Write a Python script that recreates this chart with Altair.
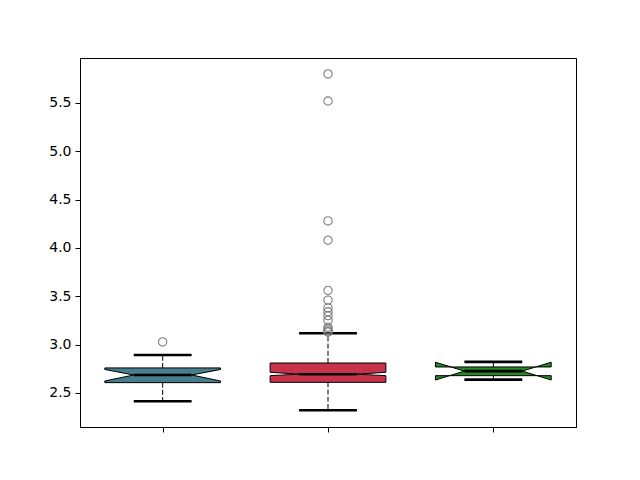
import altair as alt
import pandas as pd

# ---- data ----
boxes = ["A", "B", "C"]
positions = [1, 2, 3]
colors = ["#477d8d", "#c8324a", "#228b22"]
q1 = [2.607, 2.610, 2.679]
med = [2.686, 2.694, 2.726]
q3 = [2.759, 2.810, 2.769]
cilo = [2.624, 2.679, 2.634]
cihi = [2.743, 2.714, 2.818]
whislo = [2.414, 2.321, 2.638]
whishi = [2.893, 3.117, 2.822]
flier_box = ["A"] + ["B"] * 14
flier_vals = [3.028,
              5.80, 5.52, 4.28, 4.08, 3.56, 3.46, 3.38, 3.34, 3.30, 3.25,
              3.18, 3.16, 3.14, 3.13]
y_ticks = [2.5, 3.0, 3.5, 4.0, 4.5, 5.0, 5.5]

WIDTH = 0.7
half = WIDTH / 2
quart = WIDTH / 4

area_rows, outline_rows, med_rows, whisk_rows, cap_rows = [], [], [], [], []
for i, b in enumerate(boxes):
    p = positions[i]
    L, R, cL, cR = p - half, p + half, p - quart, p + quart
    for xv, yv in [(L, cihi[i]), (cL, med[i]), (cR, med[i]), (R, cihi[i])]:
        area_rows.append(dict(box=b, part=b + "t", x=xv, y=yv, y2=q3[i]))
    for xv, yv in [(L, cilo[i]), (cL, med[i]), (cR, med[i]), (R, cilo[i])]:
        area_rows.append(dict(box=b, part=b + "b", x=xv, y=yv, y2=q1[i]))
    bx = [L, R, R, cR, R, R, L, L, cL, L, L]
    by = [q1[i], q1[i], cilo[i], med[i], cihi[i], q3[i], q3[i], cihi[i], med[i], cilo[i], q1[i]]
    for k, (xv, yv) in enumerate(zip(bx, by)):
        outline_rows.append(dict(box=b, k=k, x=xv, y=yv))
    med_rows.append(dict(box=b, x=cL, x2=cR, y=med[i]))
    whisk_rows.append(dict(box=b, x=p, y=q1[i], y2=whislo[i]))
    whisk_rows.append(dict(box=b, x=p, y=q3[i], y2=whishi[i]))
    cap_rows.append(dict(box=b, x=cL, x2=cR, y=whislo[i]))
    cap_rows.append(dict(box=b, x=cL, x2=cR, y=whishi[i]))

pos_map = dict(zip(boxes, positions))
fliers = pd.DataFrame(dict(box=flier_box, y=flier_vals))
fliers["x"] = fliers["box"].map(pos_map)

xs = alt.Scale(domain=[0.5, 3.5], nice=False, zero=False)
ys = alt.Scale(domain=[2.148, 5.965], nice=False, zero=False)
xaxis = alt.Axis(values=positions, labels=False, title=None, grid=False,
                 tickSize=5, tickWidth=1, tickColor="black", domainColor="black")
yaxis = alt.Axis(values=y_ticks, format=".1f", title=None, grid=False,
                 tickSize=5, tickWidth=1, tickColor="black", domainColor="black",
                 labelFont="DejaVu Sans", labelFontSize=14, labelColor="black",
                 labelPadding=4)

X = alt.X("x:Q", scale=xs, axis=xaxis)
Y = alt.Y("y:Q", scale=ys, axis=yaxis)

area = alt.Chart(pd.DataFrame(area_rows)).mark_area(opacity=1, strokeWidth=0).encode(
    x=X, y=Y, y2="y2:Q",
    color=alt.Color("box:N", scale=alt.Scale(domain=boxes, range=colors), legend=None),
    detail="part:N",
)
outline = alt.Chart(pd.DataFrame(outline_rows)).mark_line(color="black", strokeWidth=1).encode(
    x=X, y=Y, detail="box:N", order="k:Q")
whisk = alt.Chart(pd.DataFrame(whisk_rows)).mark_rule(color="black", strokeWidth=1, strokeDash=[5, 2.2]).encode(
    x=X, y=Y, y2="y2:Q")
caps = alt.Chart(pd.DataFrame(cap_rows)).mark_rule(color="black", strokeWidth=2.6).encode(
    x=X, x2="x2:Q", y=Y)
medians = alt.Chart(pd.DataFrame(med_rows)).mark_rule(color="black", strokeWidth=2.6).encode(
    x=X, x2="x2:Q", y=Y)
pts = alt.Chart(fliers).mark_point(shape="circle", filled=False, color="#7f7f7f",
                                   strokeWidth=1.1, size=70, opacity=1).encode(x=X, y=Y)

chart = alt.layer(area, outline, whisk, caps, medians, pts).properties(
    width=496, height=369,
    background="white",
    padding={"left": 72, "top": 50, "right": 56, "bottom": 45},
    autosize=alt.AutoSizeParams(type="none"),
).configure_view(stroke="black", strokeWidth=1)

chart.save("out.html", embed_options={"renderer": "svg", "actions": False})
